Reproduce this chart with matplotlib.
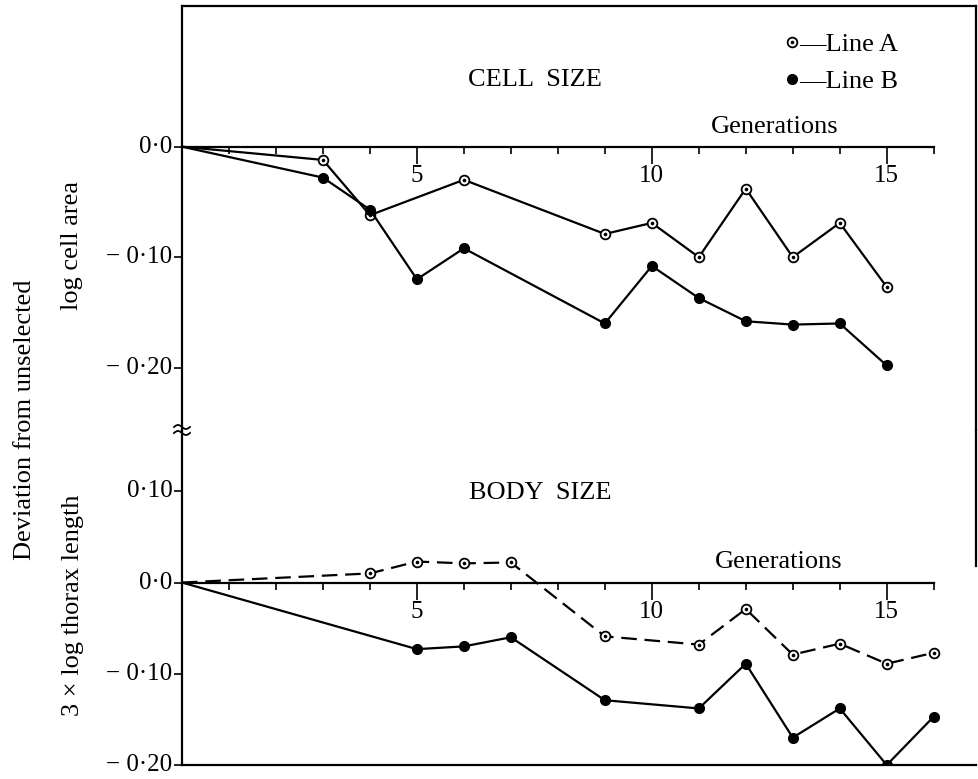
import matplotlib
matplotlib.use("Agg")
import matplotlib.pyplot as plt
import numpy as np
from matplotlib.lines import Line2D
from matplotlib.ticker import FixedLocator
from matplotlib.legend_handler import HandlerTuple

plt.rcParams["font.family"] = ["Liberation Serif", "DejaVu Serif"]

# ---------------------- Data ----------------------
cell_gen_a = [0, 3, 4, 6, 9, 10, 11, 12, 13, 14, 15]
cell_a = [0.0, -0.012, -0.062, -0.030, -0.079, -0.069, -0.100, -0.038, -0.100, -0.069, -0.127]
cell_gen_b = [0, 3, 4, 5, 6, 9, 10, 11, 12, 13, 14, 15]
cell_b = [0.0, -0.028, -0.057, -0.120, -0.092, -0.160, -0.108, -0.137, -0.158, -0.161, -0.160, -0.198]

body_gen_a = [0, 4, 5, 6, 7, 9, 11, 12, 13, 14, 15, 16]
body_a = [0.0, 0.010, 0.023, 0.021, 0.022, -0.059, -0.068, -0.029, -0.079, -0.067, -0.089, -0.077]
body_gen_b = [0, 5, 6, 7, 9, 11, 12, 13, 14, 15, 16]
body_b = [0.0, -0.073, -0.070, -0.060, -0.129, -0.138, -0.089, -0.170, -0.138, -0.200, -0.147]

x_major = [5, 10, 15]
x_minor = [1, 2, 3, 4, 6, 7, 8, 9, 11, 12, 13, 14, 16]
cell_yticks = [0.0, -0.10, -0.20]
cell_ylabels = ["0\u00b70", "\u2212 0\u00b710", "\u2212 0\u00b720"]
body_yticks = [0.10, 0.0, -0.10, -0.20]
body_ylabels = ["0\u00b710", "0\u00b70", "\u2212 0\u00b710", "\u2212 0\u00b720"]

# ---------------------- Layout ----------------------
W, H = 979, 779
fig = plt.figure(figsize=(W / 100, H / 100), dpi=100)
left = 182 / W
width = (976 - 182) / W
ax1 = fig.add_axes([left, 1 - 430 / H, width, (430 - 6) / H])
ax2 = fig.add_axes([left, 1 - 765 / H, width, (765 - 430) / H])

LW = 1.6
FS = 19
TFS = 18

open_style = dict(marker="o", ms=7, mfc="white", mec="black", mew=1.3, color="black", lw=LW)
fill_style = dict(marker="o", ms=7, mfc="black", mec="black", color="black", lw=LW)
dot_style = dict(marker="o", ms=1.6, color="black", ls="none")

# ---------------------- Cell size ----------------------
ax1.plot(cell_gen_a, cell_a, **open_style, markevery=slice(1, None), zorder=3)
ax1.plot(cell_gen_a[1:], cell_a[1:], **dot_style, zorder=4)
ax1.plot(cell_gen_b, cell_b, **fill_style, markevery=slice(1, None), zorder=3)
ax1.set_xlim(0, 16.9)
ax1.set_ylim(-0.2564, 0.1273)

# ---------------------- Body size ----------------------
ax2.plot(body_gen_a, body_a, **open_style, ls=(0, (7, 3.5)), markevery=slice(1, None), zorder=3)
ax2.plot(body_gen_a[1:], body_a[1:], **dot_style, zorder=4)
ax2.plot(body_gen_b, body_b, **fill_style, markevery=slice(1, None), zorder=3)
ax2.set_xlim(0, 16.9)
ax2.set_ylim(-0.2, 0.1672)
ax2.axhline(-0.2, color="black", lw=LW, clip_on=False)

for ax, yt, yl in [(ax1, cell_yticks, cell_ylabels), (ax2, body_yticks, body_ylabels)]:
    for s in ax.spines.values():
        s.set_linewidth(LW)
    ax.spines["bottom"].set_position(("data", 0))
    ax.spines["bottom"].set_bounds(0, 16)
    ax.xaxis.set_major_locator(FixedLocator(x_major))
    ax.xaxis.set_minor_locator(FixedLocator(x_minor))
    ax.tick_params(axis="x", which="major", direction="out", length=12, width=1.2,
                   labelsize=TFS, pad=1)
    ax.tick_params(axis="x", which="minor", direction="out", length=5, width=1.2)
    ax.set_yticks(yt)
    ax.set_yticklabels(yl, va="center")
    ax.tick_params(axis="y", direction="out", length=6, width=1.2, labelsize=TFS, pad=1)
    ax.patch.set_visible(False)

ax2.spines["top"].set_visible(False)
ax2.spines["right"].set_bounds(0.018, 0.1672)

# ---------------------- Text ----------------------
ax1.text(7.51, 0.060, "CELL  SIZE", fontsize=FS, ha="center", va="center")
ax1.text(12.62, 0.018, "Generations", fontsize=FS, ha="center", va="center")
ax2.text(7.62, 0.0986, "BODY  SIZE", fontsize=FS, ha="center", va="center")
ax2.text(12.69, 0.022, "Generations", fontsize=FS, ha="center", va="center")

fig.text(25 / W, 1 - 420 / H, "Deviation from unselected", rotation=90,
         fontsize=FS, ha="center", va="center")
fig.text(72 / W, 1 - 245 / H, "log cell area", rotation=90,
         fontsize=FS, ha="center", va="center")
fig.text(73 / W, 1 - 605 / H, "3 \u00d7 log thorax length", rotation=90,
         fontsize=FS, ha="center", va="center")

# legend
h_open = Line2D([], [], marker="o", ls="none", ms=7, mfc="white", mec="black", mew=1.3)
h_dot = Line2D([], [], **dot_style)
h_fill = Line2D([], [], marker="o", ls="none", ms=7, color="black")
ax1.legend([(h_open, h_dot), h_fill], ["\u2014Line A", "\u2014Line B"],
           handler_map={tuple: HandlerTuple(ndivide=1)},
           loc="upper left", bbox_to_anchor=((786 - 182) / 794, 1 - 27 / 424),
           frameon=False, fontsize=FS, handlelength=0.45, handletextpad=0.05,
           borderpad=0, borderaxespad=0, labelspacing=0.5)

# axis break mark
t = np.linspace(-1, 1, 30)
for yc in (427, 433):
    xs = (182 + 8 * t) / W
    ys = 1 - (yc + 2 * np.sin(np.pi * t)) / H
    fig.add_artist(Line2D(xs, ys, color="black", lw=1.3, transform=fig.transFigure))

fig.savefig("out.png", dpi=100)
